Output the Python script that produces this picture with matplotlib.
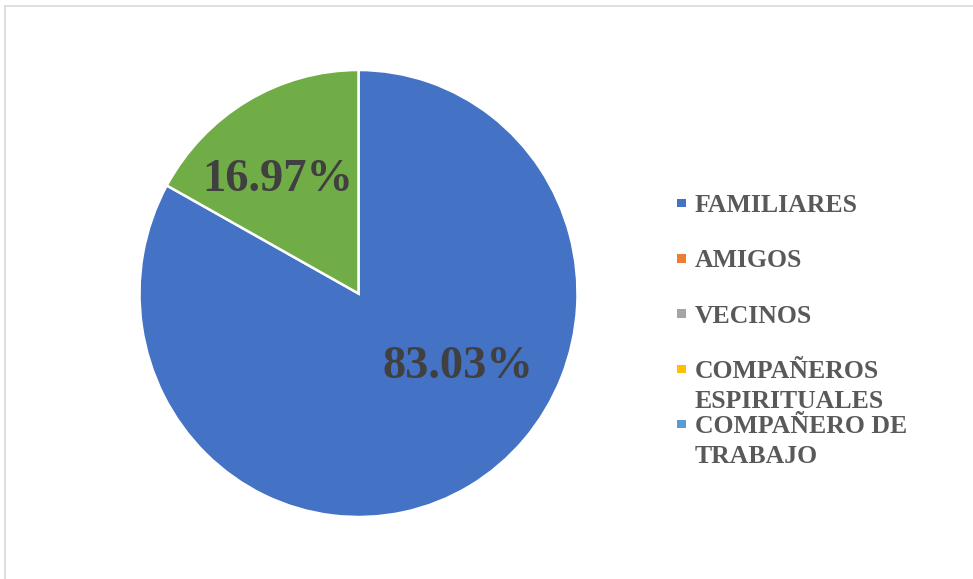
import matplotlib.pyplot as plt
from matplotlib.patches import Rectangle
from matplotlib.lines import Line2D

categories = ["FAMILIARES", "AMIGOS", "VECINOS", "COMPAÑEROS\nESPIRITUALES",
              "COMPAÑERO DE\nTRABAJO", "OTROS"]
percentages = [83.03, 0, 0, 0, 0, 16.97]
colors = ["#4472C4", "#ED7D31", "#A5A5A5", "#FFC000", "#5B9BD5", "#70AD47"]
legend_count = 5  # the legend in the source only lists the first five

W, H = 973, 579
fig = plt.figure(figsize=(W / 100, H / 100), dpi=100)

# outer chart border (only top and left edges visible)
fig.add_artist(Line2D([5 / W, 5 / W], [0, 1 - 6 / H], color="#D9D9D9", lw=1.2))
fig.add_artist(Line2D([5 / W, 1], [1 - 6 / H, 1 - 6 / H], color="#D9D9D9", lw=1.2))

# pie area (source pie is a touch taller than wide)
cx, cy, rx, ry = 358.5, 293.5, 219, 223.5
ax = fig.add_axes([(cx - rx) / W, (H - cy - ry) / H, 2 * rx / W, 2 * ry / H])

shown = [(c, v, col) for c, v, col in zip(categories, percentages, colors) if v > 0]
wedges, texts, autotexts = ax.pie(
    [v for _, v, _ in shown],
    colors=[col for _, _, col in shown],
    startangle=90,
    counterclock=False,
    autopct="%.2f%%",
    wedgeprops=dict(edgecolor="white", linewidth=1.8),
    textprops=dict(family="Liberation Serif", weight="bold", size=33.5, color="#404040"),
)
ax.set_aspect("auto")
ax.set_xlim(-1, 1)
ax.set_ylim(-1, 1)

label_pos = {"FAMILIARES": (0.452, -0.327), "OTROS": (-0.368, 0.508)}
for (name, _, _), t in zip(shown, autotexts):
    t.set_position(label_pos[name])
    t.set_ha("center")
    t.set_va("center")

# legend, laid out like the Excel one
for i in range(legend_count):
    base = 212 + i * 55.3
    sq = 8.5
    fig.add_artist(Rectangle((677 / W, (H - (base - 9) - sq / 2) / H), sq / W, sq / H,
                             facecolor=colors[i], edgecolor="none"))
    for j, line in enumerate(categories[i].split("\n")):
        fig.text(695 / W, (H - (base + j * 30)) / H, line, ha="left", va="baseline",
                 family="Liberation Serif", weight="bold", size=18.5, color="#595959")

fig.savefig("out.png", dpi=100)
